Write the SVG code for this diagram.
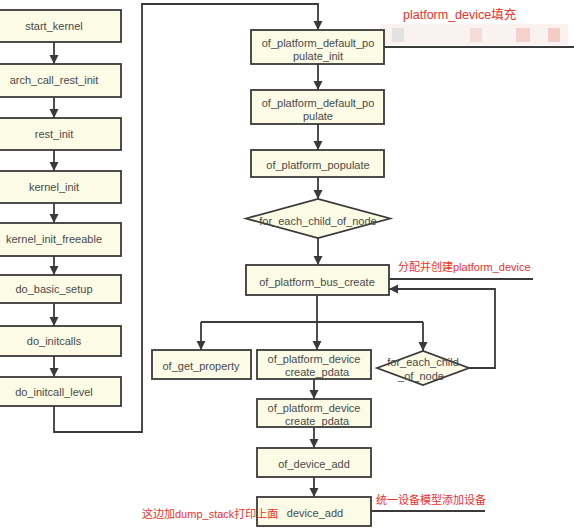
<svg xmlns="http://www.w3.org/2000/svg" width="574" height="529" viewBox="0 0 574 529">
<style>
.b{fill:#fbfbe6;stroke:#3a3a3a;stroke-width:1.8}
.t{font-family:"Liberation Sans",Arial,sans-serif;font-size:11px;fill:#4a4a4a;text-anchor:middle}
.c{fill:none;stroke:#3a3a3a;stroke-width:1.8}
.r{font-family:"Liberation Sans","Noto Sans CJK SC",sans-serif;font-size:11px;fill:#f0302a}
</style>
<defs>
<marker id="a" viewBox="0 0 10 10" refX="10" refY="5" markerWidth="5" markerHeight="5.5" orient="auto" markerUnits="strokeWidth">
<path d="M0,0L10,5L0,10z" fill="#3a3a3a"/>
</marker>
</defs>
<rect width="574" height="529" fill="#fff"/>
<g id="blur">
<rect x="380" y="24" width="188" height="21" fill="#f8eceb" opacity="0.7"/>
<rect x="392" y="28" width="12" height="14" fill="#e2e2e2"/>
<rect x="516" y="28" width="14" height="14" fill="#f6d0ca"/>
<rect x="548" y="28" width="12" height="14" fill="#f4ccc5"/>
<rect x="470" y="28" width="12" height="14" fill="#f5dcd8"/>
</g>
<g id="connectors">
<path class="c" d="M54,42V64" marker-end="url(#a)"/>
<path class="c" d="M54,97V118" marker-end="url(#a)"/>
<path class="c" d="M54,150V171" marker-end="url(#a)"/>
<path class="c" d="M54,203V223" marker-end="url(#a)"/>
<path class="c" d="M54,256V275" marker-end="url(#a)"/>
<path class="c" d="M54,303V326" marker-end="url(#a)"/>
<path class="c" d="M54,356V377" marker-end="url(#a)"/>
<path class="c" d="M54,406V432H142V4H318V30" marker-end="url(#a)"/>
<path class="c" d="M318,64V90" marker-end="url(#a)"/>
<path class="c" d="M318,124V150" marker-end="url(#a)"/>
<path class="c" d="M318,177V199" marker-end="url(#a)"/>
<path class="c" d="M318,238V265" marker-end="url(#a)"/>
<path class="c" d="M317,295V350" marker-end="url(#a)"/>
<path class="c" d="M201,322H423"/>
<path class="c" d="M201,322V350" marker-end="url(#a)"/>
<path class="c" d="M423,322V351" marker-end="url(#a)"/>
<path class="c" d="M469,368H495V289H389" marker-end="url(#a)"/>
<path class="c" d="M314,379V399" marker-end="url(#a)"/>
<path class="c" d="M314,427V448" marker-end="url(#a)"/>
<path class="c" d="M314,477V497" marker-end="url(#a)"/>
<path class="c" d="M384,47H574"/>
<path class="c" d="M389,279H533"/>
<path class="c" d="M371,511H485"/>
</g>
<g id="start_kernel"><rect class="b" x="-2" y="10" width="123" height="32"/><text class="t" x="54" y="30">start_kernel</text></g>
<g id="arch_call_rest_init"><rect class="b" x="-2" y="64" width="123" height="33"/><text class="t" x="54" y="84">arch_call_rest_init</text></g>
<g id="rest_init"><rect class="b" x="-2" y="118" width="123" height="32"/><text class="t" x="54" y="138">rest_init</text></g>
<g id="kernel_init"><rect class="b" x="-2" y="171" width="123" height="32"/><text class="t" x="54" y="191">kernel_init</text></g>
<g id="kernel_init_freeable"><rect class="b" x="-2" y="223" width="123" height="33"/><text class="t" x="54" y="243">kernel_init_freeable</text></g>
<g id="do_basic_setup"><rect class="b" x="-2" y="275" width="123" height="28"/><text class="t" x="54" y="293">do_basic_setup</text></g>
<g id="do_initcalls"><rect class="b" x="-2" y="326" width="123" height="30"/><text class="t" x="54" y="345">do_initcalls</text></g>
<g id="do_initcall_level"><rect class="b" x="-2" y="377" width="123" height="29"/><text class="t" x="54" y="396">do_initcall_level</text></g>
<g id="of_platform_default_populate_init"><rect class="b" x="251" y="30" width="133" height="34"/><text class="t" x="318" y="47">of_platform_default_po</text><text class="t" x="318" y="60">pulate_init</text></g>
<g id="of_platform_default_populate"><rect class="b" x="251" y="90" width="133" height="34"/><text class="t" x="318" y="107">of_platform_default_po</text><text class="t" x="318" y="120">pulate</text></g>
<g id="of_platform_populate"><rect class="b" x="251" y="150" width="133" height="27"/><text class="t" x="318" y="169">of_platform_populate</text></g>
<g id="for_each_child_of_node"><path class="b" d="M246,218.5L318,199L390,218.5L318,238z"/><text class="t" x="318" y="225">for_each_child_of_node</text></g>
<g id="of_platform_bus_create"><rect class="b" x="246" y="265" width="143" height="30"/><text class="t" x="317" y="286">of_platform_bus_create</text></g>
<g id="of_get_property"><rect class="b" x="152" y="350" width="99" height="29"/><text class="t" x="201" y="370">of_get_property</text></g>
<g id="of_platform_device_create_pdata_1"><rect class="b" x="257" y="350" width="114" height="29"/><text class="t" x="314" y="363">of_platform_device</text><text class="t" x="317" y="376">create_pdata</text></g>
<g id="for_each_child_of_node_2"><path class="b" d="M377,368L423,351L469,368L423,385z"/><text class="t" x="423" y="366">for_each_child</text><text class="t" x="421" y="380">_of_node</text></g>
<g id="of_platform_device_create_pdata_2"><rect class="b" x="257" y="399" width="114" height="28"/><text class="t" x="314" y="412">of_platform_device</text><text class="t" x="317" y="425">create_pdata</text></g>
<g id="of_device_add"><rect class="b" x="257" y="448" width="114" height="29"/><text class="t" x="314" y="468">of_device_add</text></g>
<g id="device_add"><rect class="b" x="257" y="497" width="114" height="29"/><text class="t" x="315" y="517">device_add</text></g>
<text class="r" x="403" y="19" style="font-size:12.5px">platform_device填充</text>
<text class="r" x="398" y="271">分配并创建platform_device</text>
<text class="r" x="376" y="504">统一设备模型添加设备</text>
<text class="r" x="142" y="518">这边加dump_stack打印上面</text>
</svg>
